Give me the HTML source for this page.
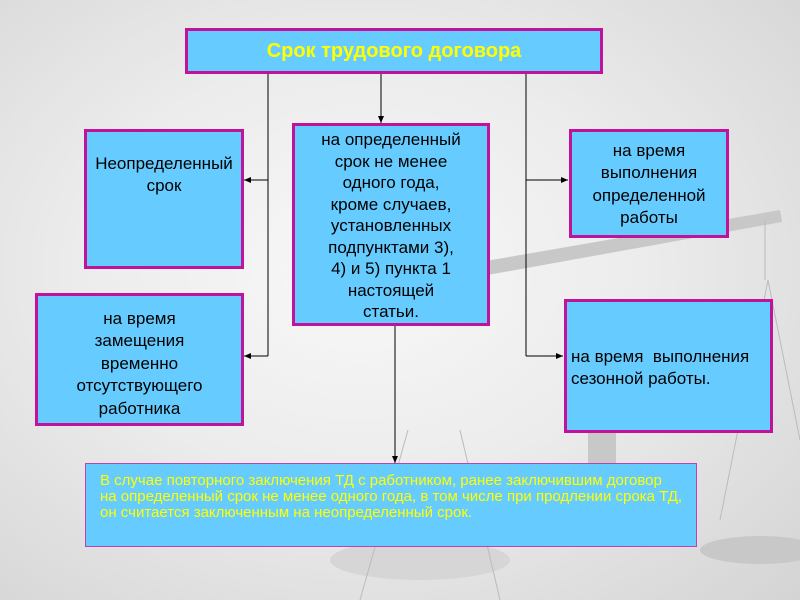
<!DOCTYPE html>
<html><head><meta charset="utf-8"><style>
body{margin:0;width:800px;height:600px;overflow:hidden;position:relative;font-family:"Liberation Sans","DejaVu Sans",sans-serif;
background:radial-gradient(ellipse at 45% 45%,#f8f8f8 0%,#ececec 45%,#d4d4d4 100%);}
.b{position:absolute;box-sizing:border-box;background:#66ccff;border:3px solid #c0129a;color:#000;text-align:center;font-size:17px;line-height:22px;white-space:nowrap;}
svg{position:absolute;left:0;top:0}
</style></head><body>
<svg width="800" height="600">
<g fill="#c8c8c8" stroke="none">
<polygon points="480,262 780,210 782,222 482,276"/>
<rect x="588" y="310" width="28" height="210"/>
<rect x="575" y="300" width="54" height="16"/>
<ellipse cx="760" cy="550" rx="60" ry="14"/>
<ellipse cx="420" cy="560" rx="90" ry="20" fill="#d6d6d6"/>
</g>
<g stroke="#bbb" stroke-width="1" fill="none">
<line x1="408" y1="430" x2="360" y2="600"/><line x1="460" y1="430" x2="500" y2="600"/>
<line x1="768" y1="280" x2="720" y2="520"/><line x1="768" y1="280" x2="800" y2="440"/>
<line x1="765" y1="220" x2="765" y2="280"/>
</g>
<defs><marker id="a" markerWidth="8" markerHeight="8" refX="7" refY="4" orient="auto" markerUnits="userSpaceOnUse"><path d="M0,1 L7,4 L0,7z" fill="#000"/></marker></defs>
<g stroke="#000" stroke-width="1" fill="none">
<polyline points="268,73 268,356"/>
<line x1="268" y1="180" x2="244" y2="180" marker-end="url(#a)"/>
<line x1="268" y1="356" x2="244" y2="356" marker-end="url(#a)"/>
<line x1="381" y1="73" x2="381" y2="123" marker-end="url(#a)"/>
<polyline points="526,73 526,356"/>
<line x1="526" y1="180" x2="568" y2="180" marker-end="url(#a)"/>
<line x1="526" y1="356" x2="563" y2="356" marker-end="url(#a)"/>
<line x1="395" y1="325" x2="395" y2="463" marker-end="url(#a)"/>
</g>
</svg>
<div class="b" style="left:185px;top:28px;width:418px;height:46px;color:#ffff00;font-weight:bold;font-size:20px;line-height:40px;">Срок трудового договора</div>
<div class="b" style="left:84px;top:129px;width:160px;height:140px;padding-top:21px;">Неопределенный<br>срок</div>
<div class="b" style="left:292px;top:123px;width:198px;height:203px;padding-top:3px;line-height:21.5px;">на определенный<br>срок не менее<br>одного года,<br>кроме случаев,<br>установленных<br>подпунктами 3),<br>4) и 5) пункта 1<br>настоящей<br>статьи.</div>
<div class="b" style="left:569px;top:129px;width:160px;height:109px;padding-top:8px;line-height:22.4px;">на время<br>выполнения<br>определенной<br>работы</div>
<div class="b" style="left:35px;top:293px;width:209px;height:133px;padding-top:12px;line-height:22.4px;">на время<br>замещения<br>временно<br>отсутствующего<br>работника</div>
<div class="b" style="left:564px;top:299px;width:209px;height:134px;padding-top:44px;text-align:left;padding-left:4px;line-height:22.4px;">на время&nbsp; выполнения<br>сезонной работы.</div>
<div class="b" style="left:85px;top:463px;width:612px;height:84px;border:1px solid #c040b0;color:#ffff00;text-align:left;font-size:15px;line-height:16px;padding:9px 0 0 14px;">В случае повторного заключения ТД с работником, ранее заключившим договор<br>на определенный срок не менее одного года, в том числе при продлении срока ТД,<br>он считается заключенным на неопределенный срок.</div>
</body></html>
